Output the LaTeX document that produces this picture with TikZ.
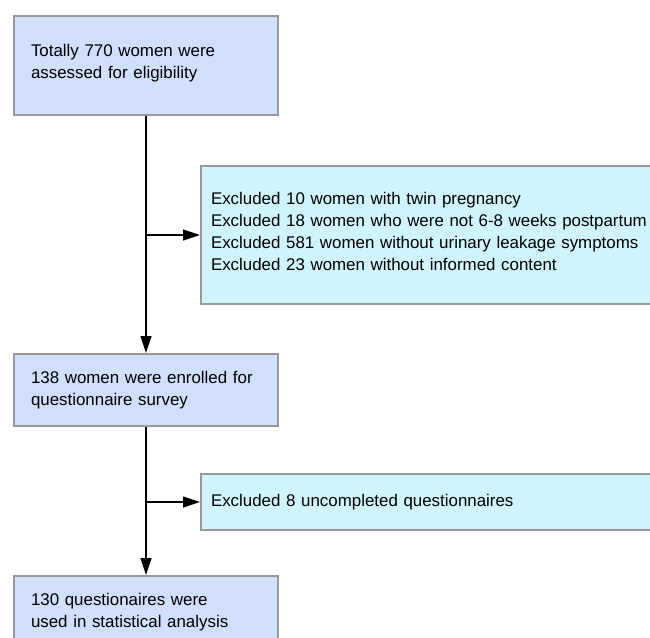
\documentclass[tikz,border=0pt]{standalone}
\usepackage{fontspec}
\setmainfont{Liberation Sans}
\usetikzlibrary{arrows.meta}
\newcommand{\lowstrut}{\rule[-8pt]{0pt}{8pt}}
\begin{document}
\begin{tikzpicture}[x=1pt,y=-1pt,
  box/.style={draw=black!40, line width=2pt, fill=mainblue, anchor=north west,
    minimum width=264pt, text width=230pt, inner xsep=17pt, inner ysep=0pt, align=left,
    font=\fontsize{16.9}{22}\selectfont},
  exbox/.style={draw=black!40, line width=2pt, fill=excyan, anchor=north west,
    minimum width=470pt, text width=450pt, inner xsep=10pt, inner ysep=0pt, align=left,
    font=\fontsize{16.9}{22}\selectfont},
  conn/.style={line width=1.2pt, -{Triangle[length=17pt,width=11pt]}}
]
\definecolor{mainblue}{HTML}{CFDFFC}
\definecolor{excyan}{HTML}{CFF4FC}
\useasboundingbox (0,0) rectangle (650,637);
\clip (0,0) rectangle (650,637);
\node[box, minimum height=99pt] (b1) at (13,15) {Totally 770 women were\\assessed for eligibility\lowstrut};
\node[exbox, minimum height=138pt] (e1) at (200,165) {Excluded 10 women with twin pregnancy\\Excluded 18 women who were not 6-8 weeks postpartum\\Excluded 581 women without urinary leakage symptoms\\Excluded 23 women without informed content\lowstrut};
\node[box, minimum height=72pt] (b2) at (13,353) {138 women were enrolled for\\questionnaire survey};
\node[exbox, minimum height=56pt] (e2) at (200,473) {Excluded 8 uncompleted questionnaires};
\node[box, minimum height=72pt] (b3) at (13,575) {130 questionaires were\\used in statistical analysis};
\coordinate (j1) at (e1.west -| b1.south);
\coordinate (j2) at (e2.west -| b2.south);
\draw[conn] (b1.south) -- (b2.north);
\draw[conn] (j1) -- (e1.west);
\draw[conn] (b2.south) -- (b3.north);
\draw[conn] (j2) -- (e2.west);
\end{tikzpicture}
\end{document}
